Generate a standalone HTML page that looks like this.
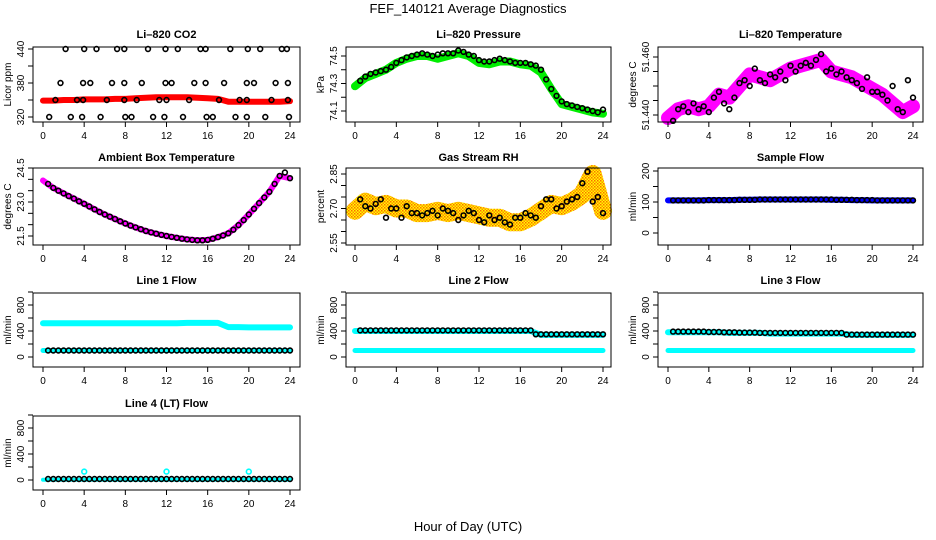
<!DOCTYPE html>
<html><head><meta charset="utf-8"><style>
body{margin:0;background:#fff}
svg{display:block;font-family:"Liberation Sans",sans-serif}
</style></head><body>
<svg id="c" width="936" height="540" viewBox="0 0 936 540">
<defs>
<pattern id="chk" width="3" height="3" patternUnits="userSpaceOnUse">
<rect width="3" height="3" fill="#ffff00"/><rect width="1.5" height="1.5" fill="#ff6a00"/><rect x="1.5" y="1.5" width="1.5" height="1.5" fill="#ff8c00"/>
</pattern>
</defs>
<text x="468" y="13" text-anchor="middle" font-size="13">FEF_140121  Average Diagnostics</text>
<text x="468" y="531" text-anchor="middle" font-size="13">Hour of Day (UTC)</text>
</svg>
<script>
const HOURS=[0,1,2,3,4,5,6,7,8,9,10,11,12,13,14,15,16,17,18,19,20,21,22,23,24];
const HALF=[0.5,1,1.5,2,2.5,3,3.5,4,4.5,5,5.5,6,6.5,7,7.5,8,8.5,9,9.5,10,10.5,11,11.5,12,12.5,13,13.5,14,14.5,15,15.5,16,16.5,17,17.5,18,18.5,19,19.5,20,20.5,21,21.5,22,22.5,23,23.5,24];
const co2Band=[349,349,350,350,351,351,351,352,352,353,354,355,355,355,355,354,353,352,347,347,347,347,347,347,348];
const co2T=[2.2,4.0,5.2,7.2,7.9,10.2,11.9,13.1,15.3,15.8,18.2,19.9,21.1,23.2,23.7,1.7,3.9,4.6,6.7,7.9,9.6,11.9,12.5,14.7,15.8,17.6,19.8,20.5,22.6,23.8,0.6,2.7,3.8,5.6,8.0,8.6,10.7,11.8,13.6,15.9,16.5,18.7,19.8,21.6,23.9,1.2,3.3,3.9,6.2,7.9,9.1,11.3,12.0,14.2,17.1,19.1,19.8,22.2,23.8];
const co2V=[440,440,440,440,440,440,440,440,440,440,440,440,440,440,440,380,380,380,380,380,380,380,380,380,380,380,380,380,380,380,320,320,320,320,320,320,320,320,320,320,320,320,320,320,320,350,350,350,350,350,350,350,350,350,350,350,350,350,350];
const presBand=[74.28,74.34,74.37,74.40,74.45,74.48,74.50,74.50,74.48,74.50,74.52,74.50,74.45,74.44,74.46,74.46,74.44,74.43,74.38,74.26,74.15,74.13,74.11,74.09,74.08];
const presPts=[74.32,74.35,74.37,74.38,74.39,74.40,74.42,74.45,74.47,74.49,74.50,74.51,74.52,74.51,74.50,74.51,74.52,74.52,74.52,74.54,74.53,74.51,74.50,74.47,74.46,74.46,74.47,74.48,74.47,74.46,74.45,74.45,74.45,74.44,74.43,74.40,74.33,74.26,74.21,74.17,74.15,74.14,74.13,74.12,74.11,74.10,74.09,74.11];
const tempBand=[51.439,51.442,51.443,51.442,51.443,51.447,51.446,51.450,51.454,51.453,51.452,51.454,51.456,51.457,51.458,51.459,51.455,51.454,51.453,51.451,51.449,51.447,51.444,51.441,51.443];
const tempPts=[51.438,51.442,51.443,51.441,51.444,51.442,51.443,51.441,51.446,51.448,51.444,51.442,51.446,51.451,51.452,51.450,51.456,51.452,51.451,51.454,51.453,51.455,51.452,51.457,51.455,51.457,51.458,51.457,51.459,51.461,51.455,51.456,51.454,51.455,51.453,51.452,51.451,51.449,51.453,51.448,51.448,51.447,51.445,51.450,51.442,51.441,51.452,51.446];
const ambBand=[23.95,23.62,23.38,23.15,22.92,22.68,22.45,22.25,22.05,21.88,21.72,21.6,21.5,21.42,21.35,21.31,21.33,21.45,21.62,21.98,22.45,22.95,23.45,24.15,24.05];
const ambPts=[23.8,23.62,23.5,23.38,23.26,23.15,23.03,22.92,22.8,22.68,22.56,22.45,22.35,22.25,22.15,22.05,21.96,21.88,21.8,21.72,21.66,21.6,21.55,21.5,21.46,21.42,21.38,21.35,21.33,21.31,21.31,21.33,21.38,21.45,21.52,21.62,21.78,21.98,22.2,22.45,22.7,22.95,23.2,23.45,23.8,24.15,24.3,24.05];
const rhBand=[2.69,2.73,2.71,2.72,2.70,2.70,2.68,2.68,2.69,2.68,2.69,2.68,2.67,2.66,2.66,2.64,2.64,2.66,2.69,2.72,2.71,2.73,2.76,2.85,2.69];
const rhPts=[2.74,2.71,2.70,2.72,2.74,2.66,2.70,2.70,2.66,2.71,2.68,2.68,2.67,2.68,2.69,2.67,2.70,2.69,2.68,2.65,2.67,2.69,2.68,2.65,2.64,2.67,2.65,2.66,2.64,2.63,2.66,2.66,2.68,2.67,2.66,2.71,2.74,2.74,2.70,2.71,2.73,2.74,2.75,2.81,2.86,2.73,2.75,2.68];
const sampBand=[105,105,105,105,106,106,106,107,107,108,108,108,108,108,108,108,107,107,106,106,105,105,105,105,105];
const sampPts=[105,105,105,105,105,105,105,106,106,106,106,106,106,107,107,107,107,108,108,108,108,108,108,108,108,108,108,108,108,108,108,108,107,107,107,107,106,106,106,106,105,105,105,105,105,105,105,105];
const l1Hi=[520,520,520,520,520,520,520,520,520,520,520,520,520,520,525,525,525,525,460,460,455,455,455,455,455];
const l1Lo=[100,100,100,100,100,100,100,100,100,100,100,100,100,100,100,100,100,100,100,100,100,100,100,100,100];
const l1Pts=[100,100,100,100,100,100,100,100,100,100,100,100,100,100,100,100,100,100,100,100,100,100,100,100,100,100,100,100,100,100,100,100,100,100,100,100,100,100,100,100,100,100,100,100,100,100,100,100];
const l2Hi=[400,400,400,400,400,400,400,400,400,400,400,400,400,400,400,400,400,400,340,340,340,340,340,340,340];
const l2Lo=[100,100,100,100,100,100,100,100,100,100,100,100,100,100,100,100,100,100,100,100,100,100,100,100,100];
const l2Pts=[410,410,410,410,410,410,410,410,410,410,410,410,410,410,410,410,410,410,410,410,410,410,410,410,410,410,410,410,410,410,410,410,410,410,350,350,350,350,350,350,350,350,350,350,350,350,350,350];
const l3Hi=[380,380,380,380,380,380,370,370,370,370,360,360,360,360,360,360,360,360,340,340,340,340,340,340,340];
const l3Lo=[100,100,100,100,100,100,100,100,100,100,100,100,100,100,100,100,100,100,100,100,100,100,100,100,100];
const l3Pts=[390,390,390,390,390,390,390,385,385,385,380,380,380,375,375,375,375,370,370,370,370,370,370,370,370,370,370,370,370,370,370,370,370,370,345,345,345,345,345,345,345,345,345,345,345,345,345,345];
const l4Lo=[5,5,5,5,5,5,5,5,5,5,5,5,5,5,5,5,5,5,5,5,5,5,5,5,5];
const l4Pts=[15,15,15,15,15,15,15,15,15,15,15,15,15,15,15,15,15,15,15,15,15,15,15,15,15,15,15,15,15,15,15,15,15,15,15,15,15,15,15,15,15,15,15,15,15,15,15,15];
const l4OutT=[4,12,20];
const l4OutV=[130,130,130];

const NS='http://www.w3.org/2000/svg';
const svg=document.getElementById('c');
function mk(tag,attrs,parent){const e=document.createElementNS(NS,tag);for(const k in attrs)e.setAttribute(k,attrs[k]);(parent||svg).appendChild(e);return e;}
const COLS=[{l:33,r:300,x0:43,x24:290},{l:346,r:611,x0:355,x24:603},{l:658,r:923,x0:668,x24:913}];
const ROWS=[{t:47,b:122,ty:34},{t:168,b:245,ty:157},{t:293,b:367,ty:280},{t:416,b:490,ty:403}];
function panel(p){
  const C=COLS[p.col],R=ROWS[p.row];
  const g=mk('g',{});
  
  
  const xs=h=>C.x0+(C.x24-C.x0)*h/24;
  const ys=v=>p.y1+(p.y2-p.y1)*(v-p.v1)/(p.v2-p.v1);
  const t=mk('text',{x:(C.l+C.r)/2,y:R.ty+4,'text-anchor':'middle','font-size':11,'font-weight':'bold'},g);t.textContent=p.title;
  
  
  const clip=mk('g',{},g);
  (p.bands||[]).forEach(b=>{
    const pts=b.t.map((h,i)=>xs(h).toFixed(1)+','+ys(b.v[i]).toFixed(1)).join(' ');
    const pl=mk('polyline',{points:pts,fill:'none',stroke:b.c,'stroke-width':b.w,'stroke-linejoin':'round','stroke-linecap':'round'},clip);
    
    
  });
  (p.pts||[]).forEach(s=>{
    s.t.forEach((h,i)=>{
      const c=mk('circle',{cx:xs(h).toFixed(1),cy:ys(s.v[i]).toFixed(1),r:2.4,fill:'none',stroke:s.c,'stroke-width':1.6},clip);
      
      
    });
  });
  mk('rect',{x:C.l,y:R.t,width:C.r-C.l,height:R.b-R.t,fill:'none',stroke:'#000','stroke-width':1},g);
  [0,4,8,12,16,20,24].forEach(h=>{
    const x=xs(h);mk('line',{x1:x,x2:x,y1:R.b,y2:R.b+5,stroke:'#000'},g);
    const tx=mk('text',{x:x,y:R.b+17,'text-anchor':'middle','font-size':10},g);tx.textContent=h;
    
    
  });
  p.ticks.forEach(v=>{const y=ys(v);mk('line',{x1:C.l,x2:C.l-5,y1:y,y2:y,stroke:'#000'},g);});
  p.labels.forEach((v,i)=>{const y=ys(v);const tx=mk('text',{x:0,y:0,'text-anchor':'middle','font-size':10,transform:`translate(${C.l-9},${y}) rotate(-90)`},g);tx.textContent=p.labelText[i];
    
    });
  const yt=mk('text',{x:0,y:0,'text-anchor':'middle','font-size':10,transform:`translate(${C.l-22},${(R.t+R.b)/2}) rotate(-90)`},g);yt.textContent=p.ylab;
  
  
}
panel({name:'co2-panel',col:0,row:0,title:'Li\u2013820 CO2',ylab:'Licor ppm',v1:320,y1:117,v2:440,y2:49,ticks:[320,350,380,410,440],labels:[320,380,440],labelText:['320','380','440'],
 bands:[{t:HOURS,v:co2Band,c:'#ff0000',w:6}],pts:[{t:co2T,v:co2V,c:'#000'}]});
panel({name:'pressure-panel',col:1,row:0,title:'Li\u2013820 Pressure',ylab:'kPa',v1:74.1,y1:111,v2:74.5,y2:56,ticks:[74.1,74.2,74.3,74.4,74.5],labels:[74.1,74.3,74.5],labelText:['74.1','74.3','74.5'],
 bands:[{t:HOURS,v:presBand,c:'#00ee00',w:8}],pts:[{t:HALF,v:presPts,c:'#000'}]});
panel({name:'temperature-panel',col:2,row:0,title:'Li\u2013820 Temperature',ylab:'degrees C',v1:51.44,y1:115,v2:51.46,y2:57,ticks:[51.44,51.445,51.45,51.455,51.46],labels:[51.44,51.46],labelText:['51.440','51.460'],
 bands:[{t:HOURS,v:tempBand,c:'#ff00ff',w:14}],pts:[{t:HALF,v:tempPts,c:'#000'}]});
panel({name:'ambient-panel',col:0,row:1,title:'Ambient Box Temperature',ylab:'degrees C',v1:21.5,y1:236,v2:24.5,y2:168,ticks:[21.5,22,22.5,23,23.5,24,24.5],labels:[21.5,23,24.5],labelText:['21.5','23.0','24.5'],
 bands:[{t:HOURS,v:ambBand,c:'#ff00ff',w:6}],pts:[{t:HALF,v:ambPts,c:'#000'}]});
panel({name:'rh-panel',col:1,row:1,title:'Gas Stream RH',ylab:'percent',v1:2.55,y1:243,v2:2.85,y2:174,ticks:[2.55,2.6,2.65,2.7,2.75,2.8,2.85],labels:[2.55,2.7,2.85],labelText:['2.55','2.70','2.85'],
 bands:[{t:HOURS,v:rhBand,c:'url(#chk)',w:18}],pts:[{t:HALF,v:rhPts,c:'#000'}]});
panel({name:'sample-flow-panel',col:2,row:1,title:'Sample Flow',ylab:'ml/min',v1:0,y1:233,v2:200,y2:171,ticks:[0,50,100,150,200],labels:[0,100,200],labelText:['0','100','200'],
 bands:[{t:HOURS,v:sampBand,c:'#0000ff',w:6}],pts:[{t:HALF,v:sampPts,c:'#000'}]});
const fl=(row)=>({v1:0,y1:357+(row-2)*123,v2:800,y2:305+(row-2)*123,ticks:[0,200,400,600,800,1000],labels:[0,400,800],labelText:['0','400','800'],ylab:'ml/min'});
panel(Object.assign(fl(2),{name:'line1-flow-panel',col:0,row:2,title:'Line 1 Flow',bands:[{t:HOURS,v:l1Hi,c:'#00ffff',w:6},{t:HOURS,v:l1Lo,c:'#00ffff',w:5}],pts:[{t:HALF,v:l1Pts,c:'#000'}]}));
panel(Object.assign(fl(2),{name:'line2-flow-panel',col:1,row:2,title:'Line 2 Flow',bands:[{t:HOURS,v:l2Hi,c:'#00ffff',w:6},{t:HOURS,v:l2Lo,c:'#00ffff',w:5}],pts:[{t:HALF,v:l2Pts,c:'#000'}]}));
panel(Object.assign(fl(2),{name:'line3-flow-panel',col:2,row:2,title:'Line 3 Flow',bands:[{t:HOURS,v:l3Hi,c:'#00ffff',w:6},{t:HOURS,v:l3Lo,c:'#00ffff',w:5}],pts:[{t:HALF,v:l3Pts,c:'#000'}]}));
panel(Object.assign(fl(3),{name:'line4-flow-panel',col:0,row:3,title:'Line 4 (LT) Flow',bands:[{t:HOURS,v:l4Lo,c:'#00ffff',w:4}],pts:[{t:HALF,v:l4Pts,c:'#000'},{t:l4OutT,v:l4OutV,c:'#00ffff'}]}));
</script>
</body></html>
